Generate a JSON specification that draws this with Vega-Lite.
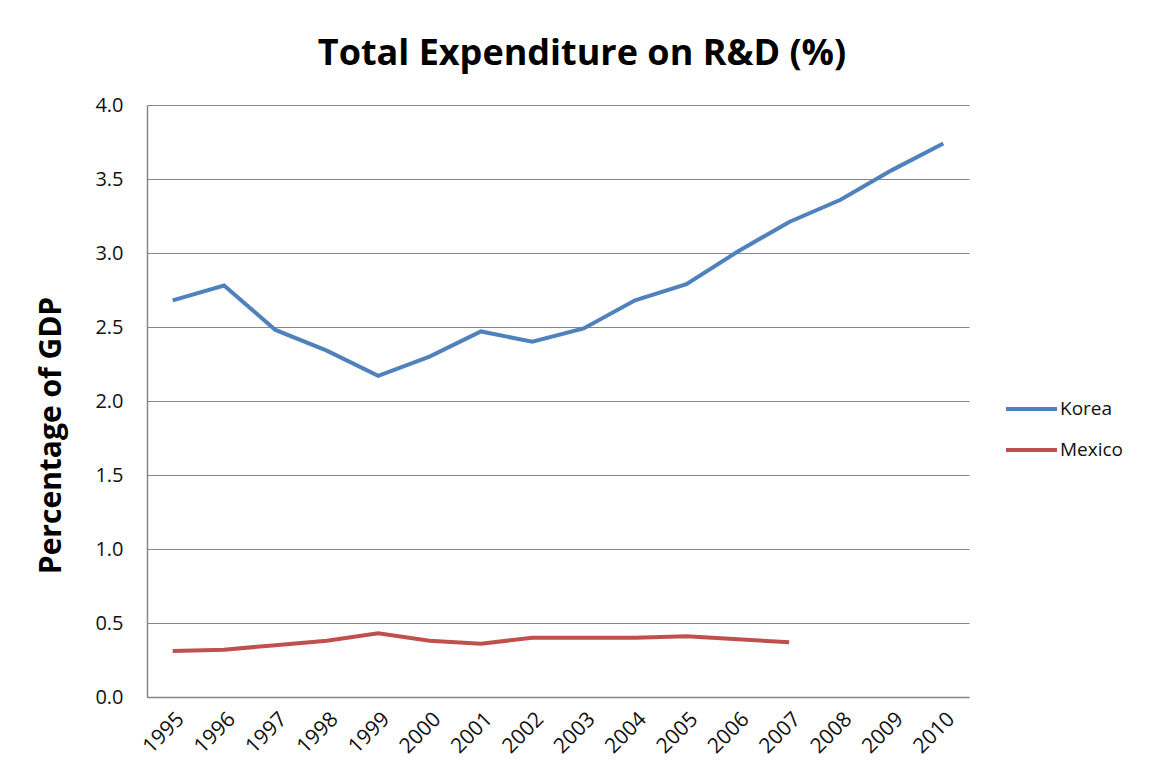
{
  "$schema": "https://vega.github.io/schema/vega-lite/v6.json",
  "autosize": "none",
  "width": 822,
  "height": 592,
  "padding": {"left": 147, "top": 105, "right": 182, "bottom": 75},
  "background": "white",
  "title": {
    "text": "Total Expenditure on R&D (%)",
    "font": "Open Sans",
    "fontSize": 36,
    "fontWeight": "bold",
    "color": "#000000",
    "anchor": "middle",
    "baseline": "alphabetic",
    "offset": 37,
    "dx": 24,
    "dy": 43
  },
  "data": {
    "values": [
      {"year": "1995", "country": "Korea", "value": 2.68},
      {"year": "1996", "country": "Korea", "value": 2.78},
      {"year": "1997", "country": "Korea", "value": 2.48},
      {"year": "1998", "country": "Korea", "value": 2.34},
      {"year": "1999", "country": "Korea", "value": 2.17},
      {"year": "2000", "country": "Korea", "value": 2.30},
      {"year": "2001", "country": "Korea", "value": 2.47},
      {"year": "2002", "country": "Korea", "value": 2.40},
      {"year": "2003", "country": "Korea", "value": 2.49},
      {"year": "2004", "country": "Korea", "value": 2.68},
      {"year": "2005", "country": "Korea", "value": 2.79},
      {"year": "2006", "country": "Korea", "value": 3.01},
      {"year": "2007", "country": "Korea", "value": 3.21},
      {"year": "2008", "country": "Korea", "value": 3.36},
      {"year": "2009", "country": "Korea", "value": 3.56},
      {"year": "2010", "country": "Korea", "value": 3.74},
      {"year": "1995", "country": "Mexico", "value": 0.31},
      {"year": "1996", "country": "Mexico", "value": 0.32},
      {"year": "1997", "country": "Mexico", "value": 0.35},
      {"year": "1998", "country": "Mexico", "value": 0.38},
      {"year": "1999", "country": "Mexico", "value": 0.43},
      {"year": "2000", "country": "Mexico", "value": 0.38},
      {"year": "2001", "country": "Mexico", "value": 0.36},
      {"year": "2002", "country": "Mexico", "value": 0.40},
      {"year": "2003", "country": "Mexico", "value": 0.40},
      {"year": "2004", "country": "Mexico", "value": 0.40},
      {"year": "2005", "country": "Mexico", "value": 0.41},
      {"year": "2006", "country": "Mexico", "value": 0.39},
      {"year": "2007", "country": "Mexico", "value": 0.37}
    ]
  },
  "mark": {"type": "line", "strokeWidth": 4, "interpolate": "linear"},
  "encoding": {
    "x": {
      "field": "year",
      "type": "ordinal",
      "scale": {"type": "point", "padding": 0.5},
      "axis": {
        "title": null,
        "labelAngle": -45,
        "labelAlign": "right",
        "labelBaseline": "top",
        "labelFont": "Open Sans",
        "labelFontSize": 21,
        "labelColor": "#111111",
        "labelPadding": 11,
        "ticks": false,
        "domainColor": "#868686",
        "domainWidth": 1.5,
        "grid": false
      }
    },
    "y": {
      "field": "value",
      "type": "quantitative",
      "scale": {"domain": [0, 4], "nice": false},
      "axis": {
        "title": "Percentage of GDP",
        "titleFont": "Open Sans",
        "titleFontSize": 30,
        "titleFontWeight": "bold",
        "titleColor": "#000000",
        "titleAngle": -90,
        "titleAlign": "center",
        "titleBaseline": "middle",
        "titleX": -96,
        "titleY": 330,
        "values": [0, 0.5, 1, 1.5, 2, 2.5, 3, 3.5, 4],
        "format": ".1f",
        "labelFont": "Open Sans",
        "labelFontSize": 20,
        "labelColor": "#111111",
        "labelPadding": 24,
        "ticks": false,
        "domainColor": "#868686",
        "domainWidth": 1.5,
        "grid": true,
        "gridColor": "#868686",
        "gridWidth": 1
      }
    },
    "color": {
      "field": "country",
      "type": "nominal",
      "scale": {"domain": ["Korea", "Mexico"], "range": ["#4F81BD", "#C0504D"]},
      "legend": {
        "title": null,
        "orient": "none",
        "legendX": 857,
        "legendY": 294,
        "symbolType": "stroke",
        "symbolSize": 2600,
        "symbolStrokeWidth": 4,
        "labelFont": "Open Sans",
        "labelFontSize": 19,
        "labelColor": "#111111",
        "labelOffset": 1,
        "clipHeight": 20,
        "rowPadding": 21
      }
    }
  },
  "config": {"view": {"stroke": null}}
}
